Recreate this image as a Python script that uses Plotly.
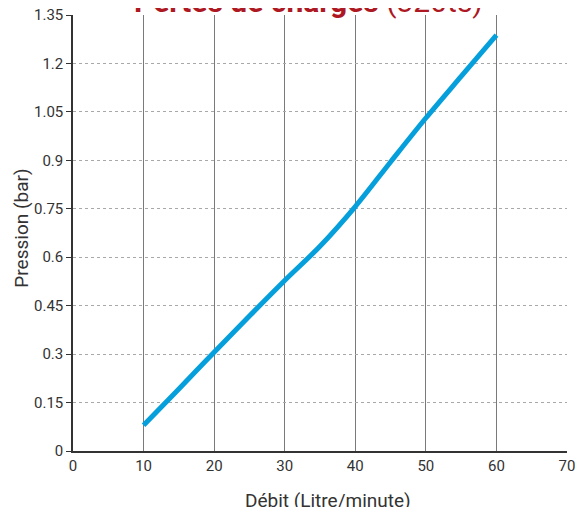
import plotly.graph_objects as go

debit = [10, 15, 20, 25, 30, 35, 40, 45, 50, 55, 60]
pression = [0.08, 0.192, 0.306, 0.418, 0.528, 0.634, 0.757, 0.895, 1.031, 1.16, 1.288]

x_ticks = [0, 10, 20, 30, 40, 50, 60, 70]
y_ticks = [0, 0.15, 0.3, 0.45, 0.6, 0.75, 0.9, 1.05, 1.2, 1.35]
y_labels = ["0", "0.15", "0.3", "0.45", "0.6", "0.75", "0.9", "1.05", "1.2", "1.35"]

FONT = "Roboto, Arial, sans-serif"

fig = go.Figure()
fig.add_trace(go.Scatter(
    x=debit, y=pression, mode="lines",
    line=dict(color="#059fdb", width=5, shape="spline", smoothing=0.9),
    hoverinfo="skip", showlegend=False,
))

fig.update_layout(
    width=569, height=499,
    margin=dict(l=65, r=10, t=7, b=56, autoexpand=False),
    paper_bgcolor="white", plot_bgcolor="white",
    font=dict(family=FONT, size=15, color="#333333"),
    xaxis=dict(
        range=[0, 70], tickvals=x_ticks, ticktext=[str(v) for v in x_ticks],
        showgrid=True, gridcolor="#7a7a7a", gridwidth=1,
        showline=True, linecolor="#333333", linewidth=1.5,
        zeroline=False, ticks="", ticklen=0, ticklabeloverflow="allow",
        automargin=False,
        tickfont=dict(family=FONT, size=15, color="#333333"),
    ),
    yaxis=dict(
        range=[0, 1.35], tickvals=y_ticks, ticktext=y_labels,
        showgrid=True, gridcolor="#a8a8a8", gridwidth=1, griddash="3px,3px",
        showline=True, linecolor="#333333", linewidth=1.5,
        zeroline=False, ticks="outside", ticklen=5, tickcolor="#333333",
        ticklabeloverflow="allow", automargin=False,
        tickfont=dict(family=FONT, size=15, color="#333333"),
    ),
    annotations=[
        dict(text="Débit (Litre/minute)", x=0.517, y=0, xref="paper", yref="paper",
             yanchor="middle", yshift=-49, showarrow=False,
             font=dict(family=FONT, size=19, color="#333333")),
        dict(text="Pression (bar)", x=0, y=0.51, xref="paper", yref="paper",
             xanchor="center", xshift=-51, textangle=-90, showarrow=False,
             font=dict(family=FONT, size=19, color="#333333")),
        dict(text="<b>Pertes de charges</b> (320ts)", x=0.476, y=1, xref="paper", yref="paper",
             yanchor="bottom", yshift=-6, showarrow=False,
             font=dict(family=FONT, size=30, color="#ad1822")),
    ],
)

fig.write_html("out.html")
